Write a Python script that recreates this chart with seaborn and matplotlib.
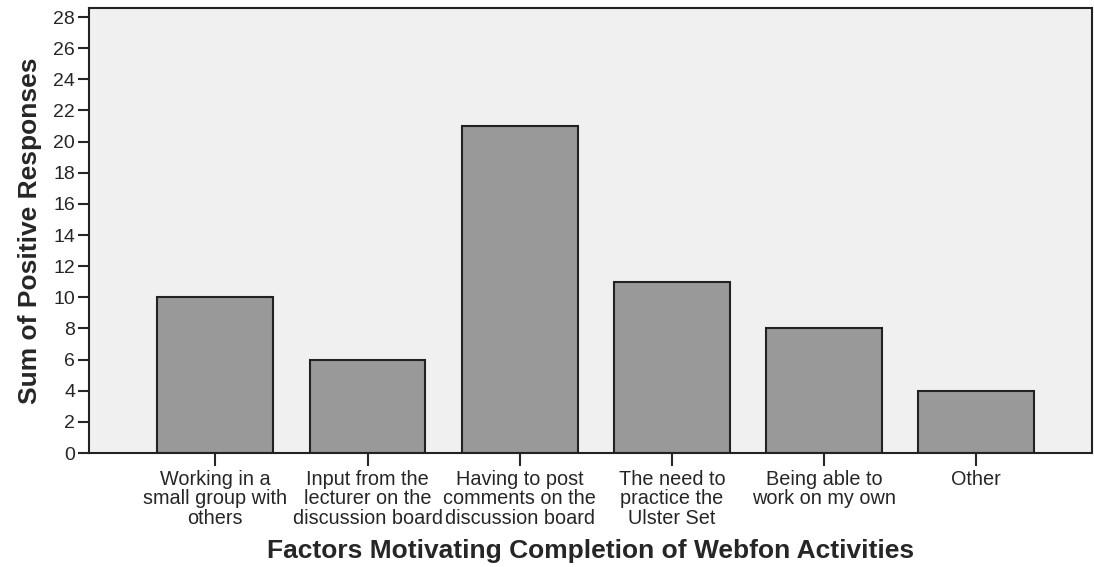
import matplotlib
matplotlib.use("Agg")
import matplotlib.pyplot as plt
import seaborn as sns
import pandas as pd

# Data
categories = [
    "Working in a\nsmall group with\nothers",
    "Input from the\nlecturer on the\ndiscussion board",
    "Having to post\ncomments on the\ndiscussion board",
    "The need to\npractice the\nUlster Set",
    "Being able to\nwork on my own",
    "Other",
]
responses = [10, 6, 21, 11, 8, 4]
yticks = list(range(0, 29, 2))

df = pd.DataFrame({"factor": categories, "count": responses})

sns.set_style("ticks")
plt.rcParams["font.family"] = ["Liberation Sans", "DejaVu Sans"]

fig = plt.figure(figsize=(10.94, 5.67), dpi=100)
ax = fig.add_axes([89 / 1094, 1 - 453 / 567, (1092 - 89) / 1094, (453 - 8) / 567])

sns.barplot(data=df, x="factor", y="count", color="#999999", saturation=1,
            width=0.76, edgecolor="#222222", linewidth=1.5, ax=ax)

ax.set_facecolor("#f0f0f0")
ax.set_xlim(-0.83, 5.76)
ax.set_ylim(0, 28.58)
ax.set_yticks(yticks)
ax.tick_params(axis="y", labelsize=14, length=8, width=1.5, direction="out", pad=2)
ax.tick_params(axis="x", labelsize=14.3, length=9, width=1.5, direction="out", pad=3)
for lbl in ax.get_xticklabels():
    lbl.set_linespacing(1.05)

for side in ["left", "bottom", "top", "right"]:
    ax.spines[side].set_color("#222222")
    ax.spines[side].set_linewidth(1.5)

ax.set_xlabel("Factors Motivating Completion of Webfon Activities",
              fontsize=19, fontweight="bold", labelpad=8)
ax.set_ylabel("Sum of Positive Responses", fontsize=19, fontweight="bold", labelpad=8)

fig.savefig("out.png", dpi=100, facecolor="white")
